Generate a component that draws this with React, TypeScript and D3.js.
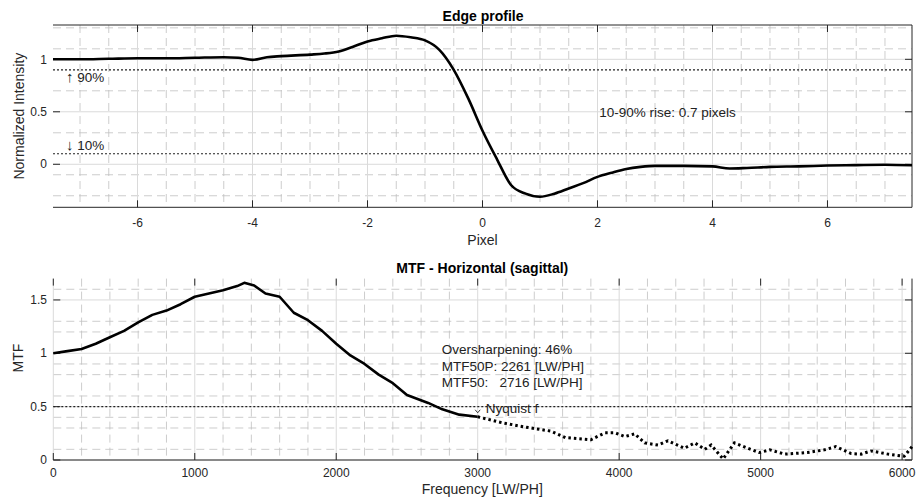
import React from 'react'
import * as d3 from 'd3'

// edge profile (pixel, normalized intensity)
const edgePixel = [-7.47, -7, -6.5, -6, -5.5, -5, -4.5, -4.25, -4, -3.75, -3.5, -3, -2.75, -2.5, -2.25, -2, -1.75, -1.5, -1.25, -1, -0.75, -0.5, -0.25, 0, 0.25, 0.5, 0.75, 1, 1.25, 1.5, 1.75, 2, 2.25, 2.5, 2.75, 3, 3.5, 4, 4.3, 4.6, 5, 5.5, 6, 6.5, 7, 7.47]
const edgeIntensity = [1.0, 1.0, 1.005, 1.01, 1.01, 1.015, 1.02, 1.015, 0.995, 1.02, 1.03, 1.045, 1.055, 1.075, 1.12, 1.17, 1.2, 1.225, 1.21, 1.18, 1.09, 0.9, 0.63, 0.32, 0.05, -0.2, -0.28, -0.31, -0.28, -0.23, -0.18, -0.12, -0.08, -0.045, -0.025, -0.015, -0.015, -0.02, -0.04, -0.035, -0.025, -0.02, -0.012, -0.008, -0.005, -0.01]

// MTF (frequency LW/PH, value)
const mtfFreq = [0, 100, 200, 300, 400, 500, 600, 700, 800, 900, 1000, 1100, 1200, 1300, 1350, 1420, 1500, 1600, 1700, 1800, 1900, 2000, 2100, 2200, 2300, 2400, 2500, 2650, 2750, 2870, 3000, 3170, 3330, 3520, 3620, 3800, 3900, 3970, 4040, 4110, 4180, 4275, 4345, 4460, 4535, 4605, 4650, 4735, 4815, 4910, 4990, 5065, 5170, 5330, 5450, 5530, 5640, 5710, 5780, 5900, 6015, 6070]
const mtfValue = [1.0, 1.02, 1.04, 1.09, 1.15, 1.21, 1.29, 1.36, 1.4, 1.46, 1.53, 1.56, 1.59, 1.63, 1.66, 1.635, 1.56, 1.53, 1.38, 1.31, 1.21, 1.09, 0.98, 0.9, 0.8, 0.72, 0.61, 0.535, 0.475, 0.425, 0.405, 0.35, 0.31, 0.27, 0.21, 0.19, 0.255, 0.255, 0.22, 0.245, 0.16, 0.14, 0.18, 0.11, 0.16, 0.1, 0.14, 0.01, 0.16, 0.11, 0.07, 0.095, 0.055, 0.07, 0.095, 0.125, 0.06, 0.055, 0.085, 0.055, 0.035, 0.125]

const edgeXTicks = [-6, -4, -2, 0, 2, 4, 6]
const edgeYTicks = [0, 0.5, 1]
const edgeYMinor = [-0.3, -0.1, 0.3, 0.7, 1.1, 1.3]
const riseLevels = [0.1, 0.9]
const mtfXTicks = [0, 1000, 2000, 3000, 4000, 5000, 6000]
const mtfYTicks = [0, 0.5, 1, 1.5]
const mtfYMinor = [0.1, 0.3, 0.4, 0.6, 0.8, 0.9, 1.2, 1.3, 1.6]
const nyquist = 3000
const mtf50Line = 0.5

const font = '"Liberation Sans", Arial, Helvetica, sans-serif'
const axisColor = '#262626'
const majorGrid = '#dadada'
const minorGrid = '#c0c0c0'

export default function App() {
  const left = 53, right = 912

  // top panel
  const x1 = d3.scaleLinear().domain([-7.47, 7.47]).range([left, right])
  const y1 = d3.scaleLinear().domain([-0.41, 1.327]).range([207.3, 25])
  const edgeMinorX = d3.range(-7, 7.5, 0.5).filter(v => v % 2 !== 0)
  const edgePts: [number, number][] = edgePixel.map((p, i) => [p, edgeIntensity[i]])
  const edgeLine = d3.line<[number, number]>()
    .x(d => x1(d[0])).y(d => y1(d[1]))
    .curve(d3.curveMonotoneX)

  // bottom panel
  const x2 = d3.scaleLinear().domain([0, 6070]).range([53.3, right])
  const y2 = d3.scaleLinear().domain([0, 1.7]).range([460, 278.6])
  const mtfMinorX = d3.range(200, 6070, 200).filter(v => v % 1000 !== 0)
  const mtfPts: [number, number][] = mtfFreq.map((f, i) => [f, mtfValue[i]])
  const mtfLine = d3.line<[number, number]>()
    .x(d => x2(d[0])).y(d => y2(d[1]))
  const solidPart = mtfPts.filter(d => d[0] <= nyquist)
  const dottedPart = mtfPts.filter(d => d[0] >= nyquist)
  const nyqY = y2(mtfValue[mtfFreq.indexOf(nyquist)])

  const t1 = y1.range()[1], b1 = y1.range()[0]
  const t2 = y2.range()[1], b2 = y2.range()[0]

  return (
    <svg width={919} height={503} style={{ position: 'absolute', left: 0, top: 0, background: '#fff' }} fontFamily={font}>
      {/* ---------- Edge profile ---------- */}
      <g>
        {edgeMinorX.map(v => (
          <line key={'mx' + v} x1={x1(v)} x2={x1(v)} y1={t1} y2={b1} stroke={minorGrid} strokeWidth={0.8} strokeDasharray="8 5" />
        ))}
        {edgeYMinor.map(v => (
          <line key={'my' + v} x1={left} x2={right} y1={y1(v)} y2={y1(v)} stroke={minorGrid} strokeWidth={0.8} strokeDasharray="8 5" />
        ))}
        {edgeXTicks.map(v => (
          <line key={'gx' + v} x1={x1(v)} x2={x1(v)} y1={t1} y2={b1} stroke={majorGrid} strokeWidth={1} />
        ))}
        {edgeYTicks.map(v => (
          <line key={'gy' + v} x1={left} x2={right} y1={y1(v)} y2={y1(v)} stroke={majorGrid} strokeWidth={1} />
        ))}
        {riseLevels.map(v => (
          <line key={'r' + v} x1={left} x2={right} y1={y1(v)} y2={y1(v)} stroke="#222" strokeWidth={1.2} strokeDasharray="2 2" />
        ))}
        {/* box */}
        <line x1={left} x2={right} y1={t1} y2={t1} stroke={axisColor} />
        <line x1={left} x2={right} y1={b1} y2={b1} stroke={axisColor} />
        <line x1={right} x2={right} y1={t1} y2={b1} stroke={axisColor} />
        {edgeXTicks.map(v => (
          <g key={'tx' + v}>
            <line x1={x1(v)} x2={x1(v)} y1={b1} y2={b1 - 7} stroke={axisColor} />
            <line x1={x1(v)} x2={x1(v)} y1={t1} y2={t1 + 7} stroke={axisColor} />
            <text x={x1(v)} y={227} fontSize={12} textAnchor="middle" fill={axisColor}>{v}</text>
          </g>
        ))}
        {edgeYTicks.map(v => (
          <g key={'ty' + v}>
            <line x1={left} x2={left + 7} y1={y1(v)} y2={y1(v)} stroke={axisColor} />
            <line x1={right} x2={right - 7} y1={y1(v)} y2={y1(v)} stroke={axisColor} />
            <text x={47} y={y1(v)} dy="0.35em" fontSize={12} textAnchor="end" fill={axisColor}>{v}</text>
          </g>
        ))}
        <path d={edgeLine(edgePts) || ''} fill="none" stroke="#000" strokeWidth={2.6} strokeLinejoin="round" />
        <text x={66} y={y1(riseLevels[1]) + 12} fontSize={13.5} fill="#222"><tspan fontSize={15}>↑</tspan> 90%</text>
        <text x={66} y={y1(riseLevels[0]) - 4} fontSize={13.5} fill="#222"><tspan fontSize={15}>↓</tspan> 10%</text>
        <text x={x1(2.03)} y={y1(0.5)} dy="0.35em" fontSize={13.5} fill="#222">10-90% rise: 0.7 pixels</text>
        <text x={483} y={21} fontSize={14} fontWeight="bold" textAnchor="middle" fill="#000">Edge profile</text>
        <text x={x1(0)} y={245} fontSize={14} textAnchor="middle" fill={axisColor}>Pixel</text>
        <text transform={`translate(23.5,${(t1 + b1) / 2}) rotate(-90)`} fontSize={14} textAnchor="middle" fill={axisColor}>Normalized Intensity</text>
      </g>

      {/* ---------- MTF ---------- */}
      <g>
        {mtfMinorX.map(v => (
          <line key={'mx2' + v} x1={x2(v)} x2={x2(v)} y1={t2} y2={b2} stroke={minorGrid} strokeWidth={0.8} strokeDasharray="8 5" />
        ))}
        {mtfYMinor.map(v => (
          <line key={'my2' + v} x1={53.3} x2={right} y1={y2(v)} y2={y2(v)} stroke={minorGrid} strokeWidth={0.8} strokeDasharray="8 5" />
        ))}
        {mtfXTicks.map(v => (
          <line key={'gx2' + v} x1={x2(v)} x2={x2(v)} y1={t2} y2={b2} stroke={majorGrid} strokeWidth={1} />
        ))}
        {mtfYTicks.map(v => (
          <line key={'gy2' + v} x1={53.3} x2={right} y1={y2(v)} y2={y2(v)} stroke={majorGrid} strokeWidth={1} />
        ))}
        <line x1={53.3} x2={right} y1={y2(mtf50Line)} y2={y2(mtf50Line)} stroke="#222" strokeWidth={1.2} strokeDasharray="2 2" />
        <line x1={53.3} x2={right} y1={b2} y2={b2} stroke={axisColor} />
        <line x1={right} x2={right} y1={t2} y2={b2} stroke={axisColor} />
        {mtfXTicks.map(v => (
          <g key={'tx2' + v}>
            <line x1={x2(v)} x2={x2(v)} y1={b2} y2={b2 - 7} stroke={axisColor} />
            <line x1={x2(v)} x2={x2(v)} y1={t2} y2={t2 + 7} stroke={axisColor} />
            <text x={x2(v)} y={477} fontSize={12} textAnchor="middle" fill={axisColor}>{v}</text>
          </g>
        ))}
        {mtfYTicks.map(v => (
          <g key={'ty2' + v}>
            <line x1={53.3} x2={60.3} y1={y2(v)} y2={y2(v)} stroke={axisColor} />
            <line x1={right} x2={right - 7} y1={y2(v)} y2={y2(v)} stroke={axisColor} />
            <text x={47} y={y2(v)} dy="0.35em" fontSize={12} textAnchor="end" fill={axisColor}>{v}</text>
          </g>
        ))}
        <path d={mtfLine(solidPart) || ''} fill="none" stroke="#000" strokeWidth={2.6} strokeLinejoin="round" />
        <path d={mtfLine(dottedPart) || ''} fill="none" stroke="#000" strokeWidth={3} strokeDasharray="2.5 3" />
        <path d={`M${x2(nyquist) - 2.5},${nyqY - 7} L${x2(nyquist)},${nyqY - 4} L${x2(nyquist) + 2.5},${nyqY - 7}`} fill="none" stroke="#222" strokeWidth={0.9} />
        <text x={x2(nyquist) + 8} y={413} fontSize={13.5} fill="#222">Nyquist f</text>
        <text x={441.7} y={354} fontSize={13.5} fill="#222">Oversharpening: 46%</text>
        <text x={441.7} y={370.7} fontSize={13.5} fill="#222">MTF50P: 2261 [LW/PH]</text>
        <text x={441.7} y={387.3} fontSize={13.5} fill="#222" xmlSpace="preserve">MTF50:   2716 [LW/PH]</text>
        <text x={482.3} y={273.3} fontSize={14} fontWeight="bold" textAnchor="middle" fill="#000">MTF - Horizontal (sagittal)</text>
        <text x={482.3} y={494} fontSize={14} textAnchor="middle" fill={axisColor}>Frequency [LW/PH]</text>
        <text transform={`translate(23,${358}) rotate(-90)`} fontSize={14} textAnchor="middle" fill={axisColor}>MTF</text>
      </g>
    </svg>
  )
}
